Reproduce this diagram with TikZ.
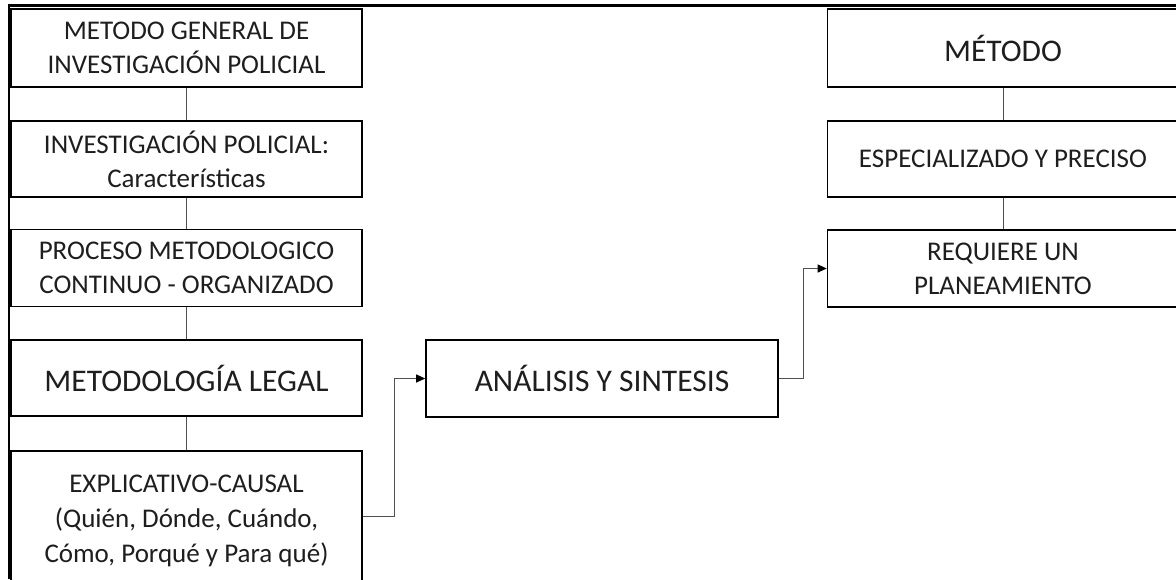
\documentclass[tikz,border=0pt]{standalone}
\usepackage{fontspec}
\setmainfont{Carlito}
\usetikzlibrary{arrows.meta}
\definecolor{txt}{RGB}{30,30,30}
\definecolor{lnk}{RGB}{80,80,80}
\begin{document}
\begin{tikzpicture}[x=1pt,y=-1pt,
  box/.style={draw=black,line width=1.6pt,minimum width=351pt,align=center,text=txt,inner sep=0pt,
    font=\fontsize{27}{34}\selectfont},
  bigbox/.style={box,font=\fontsize{31.5}{36}\selectfont},
  conn/.style={draw=lnk,line width=1pt},
  arr/.style={conn,-{Triangle[length=9pt,width=8pt,color=black]}}
]
\useasboundingbox (0,0) rectangle (1176,579);
\fill[white] (0,0) rectangle (1176,579);
\clip (0,0) rectangle (1176,579);
% frame
\draw[line width=2.2pt] (9,579) -- (9,5.5) -- (1176,5.5);
% left column
\node[box,minimum height=77.5pt] (b1) at (186.5,48) {METODO GENERAL DE\\INVESTIGACIÓN POLICIAL};
\node[box,minimum height=76pt] (b2) at (186.5,159) {INVESTIGACIÓN POLICIAL:\\Características};
\node[box,minimum height=77pt] (b3) at (186.5,268) {PROCESO METODOLOGICO\\CONTINUO - ORGANIZADO};
\node[bigbox,minimum height=76pt] (b4) at (186.5,378) {METODOLOGÍA LEGAL};
\node[box,minimum height=140pt,font=\fontsize{27}{35}\selectfont] (b5) at (186.5,521) {EXPLICATIVO-CAUSAL\\(Quién, Dónde, Cuándo,\\Cómo, Porqué y Para qué)};
% middle
\node[bigbox,minimum height=77pt,minimum width=352pt] (ana) at (602,378.5) {ANÁLISIS Y SINTESIS};
% right column
\node[bigbox,minimum height=77.5pt] (m1) at (1003,48) {MÉTODO};
\node[box,minimum height=76pt] (m2) at (1003,159) {ESPECIALIZADO Y PRECISO};
\node[box,minimum height=77pt] (req) at (1003,268.5) {REQUIERE UN\\PLANEAMIENTO};
% connectors
\draw[conn] (b1) -- (b2);
\draw[conn] (b2) -- (b3);
\draw[conn] (b3) -- (b4);
\draw[conn] (b4) -- (b5);
\draw[conn] (m1) -- (m2);
\draw[conn] (m2) -- (req);
\draw[arr] ([yshift=5pt]b5.east) -- ++(32,0) |- (ana.west);
\draw[arr] (ana.east) -- ++(25,0) |- (req.west);
\end{tikzpicture}
\end{document}
